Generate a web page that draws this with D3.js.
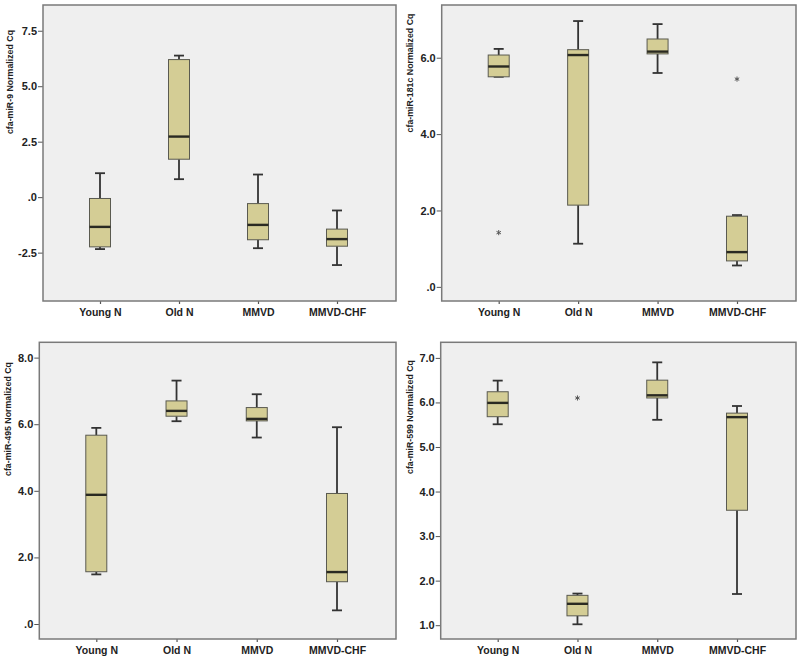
<!DOCTYPE html>
<html><head><meta charset="utf-8">
<script src="https://cdn.jsdelivr.net/npm/d3@7"></script>
<style>body{margin:0;background:#fff}svg{display:block}</style>
</head><body>
<svg id="c" width="800" height="667"></svg>
<script>
// ---- data ----
const categories = ["Young N", "Old N", "MMVD", "MMVD-CHF"];
// five-number summaries per category: [min, q1, median, q3, max]
const mir9Stats   = [[-2.34,-2.24,-1.34,-0.06,1.08],[0.81,1.71,2.73,6.2,6.38],[-2.3,-1.92,-1.25,-0.29,1.02],[-3.06,-2.21,-1.89,-1.44,-0.6]];
const mir181cStats= [[5.5,5.5,5.77,6.07,6.23],[1.13,2.14,6.07,6.21,6.96],[5.6,6.1,6.16,6.49,6.88],[0.56,0.68,0.91,1.85,1.88]];
const mir495Stats = [[1.49,1.57,3.88,5.67,5.89],[6.09,6.24,6.4,6.7,7.31],[5.6,6.1,6.16,6.5,6.9],[0.41,1.27,1.56,3.92,5.91]];
const mir599Stats = [[5.51,5.68,5.99,6.24,6.49],[1.02,1.21,1.48,1.67,1.71],[5.61,6.1,6.16,6.5,6.9],[1.7,3.58,5.67,5.76,5.92]];
// outliers: [category, value]
const mir9Outliers   = [];
const mir181cOutliers= [["Young N",1.42],["MMVD-CHF",5.44]];
const mir495Outliers = [];
const mir599Outliers = [["Old N",6.1]];
// y tick values and labels
const mir9Ticks = [-2.5,0,2.5,5,7.5],   mir9TickLabels = ["-2.5",".0","2.5","5.0","7.5"];
const mir181cTicks = [0,2,4,6],         mir181cTickLabels = [".0","2.0","4.0","6.0"];
const mir495Ticks = [0,2,4,6,8],        mir495TickLabels = [".0","2.0","4.0","6.0","8.0"];
const mir599Ticks = [1,2,3,4,5,6,7],    mir599TickLabels = ["1.0","2.0","3.0","4.0","5.0","6.0","7.0"];
const titles = ["cfa-miR-9 Normalized Cq","cfa-miR-181c Normalized Cq","cfa-miR-495 Normalized Cq","cfa-miR-599 Normalized Cq"];

// ---- layout ----
const panels = [
  {stats:mir9Stats, out:mir9Outliers, ticks:mir9Ticks, labels:mir9TickLabels, title:titles[0],
   x0:43, x1:396, y0:5, y1:301, dom:[-4.68,8.66], tx:11, ty:82},
  {stats:mir181cStats, out:mir181cOutliers, ticks:mir181cTicks, labels:mir181cTickLabels, title:titles[1],
   x0:441.7, x1:796, y0:5, y1:301, dom:[-0.37,7.38], tx:411, ty:73},
  {stats:mir495Stats, out:mir495Outliers, ticks:mir495Ticks, labels:mir495TickLabels, title:titles[2],
   x0:39.3, x1:396, y0:342.3, y1:639, dom:[-0.45,8.46], tx:9, ty:419},
  {stats:mir599Stats, out:mir599Outliers, ticks:mir599Ticks, labels:mir599TickLabels, title:titles[3],
   x0:440.7, x1:796, y0:342.3, y1:639, dom:[0.69,7.35], tx:411, ty:417}
];

const svg = d3.select("#c");
const font = "'Liberation Sans', Arial, sans-serif";
const boxW = 21, capW = 10;

panels.forEach(p => {
  const g = svg.append("g");
  const x = d3.scalePoint().domain(categories).range([p.x0 + 57, p.x1 - 59]);
  const y = d3.scaleLinear().domain(p.dom).range([p.y1, p.y0]);

  g.append("rect").attr("x", p.x0).attr("y", p.y0).attr("width", p.x1 - p.x0).attr("height", p.y1 - p.y0)
    .attr("fill", "#efefef").attr("stroke", "none");

  // y axis
  const ya = d3.axisLeft(y).tickValues(p.ticks).tickSize(5).tickPadding(1)
    .tickFormat((d, i) => p.labels[i]);
  const yg = g.append("g").attr("transform", `translate(${p.x0},0)`).call(ya);
  yg.select(".domain").remove();
  yg.selectAll(".tick line").attr("stroke", "#555").attr("stroke-width", 1);
  yg.selectAll(".tick text").attr("font-family", font).attr("font-weight", "bold")
    .attr("font-size", "11px").attr("fill", "#222");

  // x axis
  const xa = d3.axisBottom(x).tickSize(3).tickPadding(5);
  const xg = g.append("g").attr("transform", `translate(0,${p.y1})`).call(xa);
  xg.select(".domain").remove();
  xg.selectAll(".tick line").attr("stroke", "#555").attr("stroke-width", 1.2);
  xg.selectAll(".tick text").attr("font-family", font).attr("font-weight", "bold")
    .attr("font-size", "10.5px").attr("fill", "#222");

  // frame
  g.append("rect").attr("x", p.x0).attr("y", p.y0).attr("width", p.x1 - p.x0).attr("height", p.y1 - p.y0)
    .attr("fill", "none").attr("stroke", "#7a7a7a").attr("stroke-width", 1.5);

  // y title
  g.append("text").attr("transform", `translate(${p.tx},${p.ty}) rotate(-90)`)
    .attr("text-anchor", "middle").attr("dominant-baseline", "middle")
    .attr("font-family", font).attr("font-weight", "bold").attr("font-size", "8.8px")
    .attr("fill", "#222").text(p.title);

  // boxes
  p.stats.forEach((s, i) => {
    const cx = x(categories[i]);
    const [mn, q1, md, q3, mx] = s;
    const bg = g.append("g");
    bg.append("line").attr("x1", cx).attr("x2", cx).attr("y1", y(q3)).attr("y2", y(mx))
      .attr("stroke", "#333").attr("stroke-width", 1.8);
    bg.append("line").attr("x1", cx).attr("x2", cx).attr("y1", y(q1)).attr("y2", y(mn))
      .attr("stroke", "#333").attr("stroke-width", 1.8);
    bg.append("line").attr("x1", cx - capW/2).attr("x2", cx + capW/2).attr("y1", y(mx)).attr("y2", y(mx))
      .attr("stroke", "#333").attr("stroke-width", 1.8);
    bg.append("line").attr("x1", cx - capW/2).attr("x2", cx + capW/2).attr("y1", y(mn)).attr("y2", y(mn))
      .attr("stroke", "#333").attr("stroke-width", 1.8);
    bg.append("rect").attr("x", cx - boxW/2).attr("y", y(q3)).attr("width", boxW)
      .attr("height", Math.max(1, y(q1) - y(q3)))
      .attr("fill", "#d4cd95").attr("stroke", "#5a5a50").attr("stroke-width", 1);
    bg.append("line").attr("x1", cx - boxW/2).attr("x2", cx + boxW/2).attr("y1", y(md)).attr("y2", y(md))
      .attr("stroke", "#2a2a22").attr("stroke-width", 2.4);
  });

  // outliers
  p.out.forEach(o => {
    g.append("path").attr("d", d3.symbol(d3.symbolAsterisk, 18)())
      .attr("transform", `translate(${x(o[0])},${y(o[1])})`)
      .attr("fill", "none").attr("stroke", "#555").attr("stroke-width", 1);
  });
});
</script>
</body></html>
